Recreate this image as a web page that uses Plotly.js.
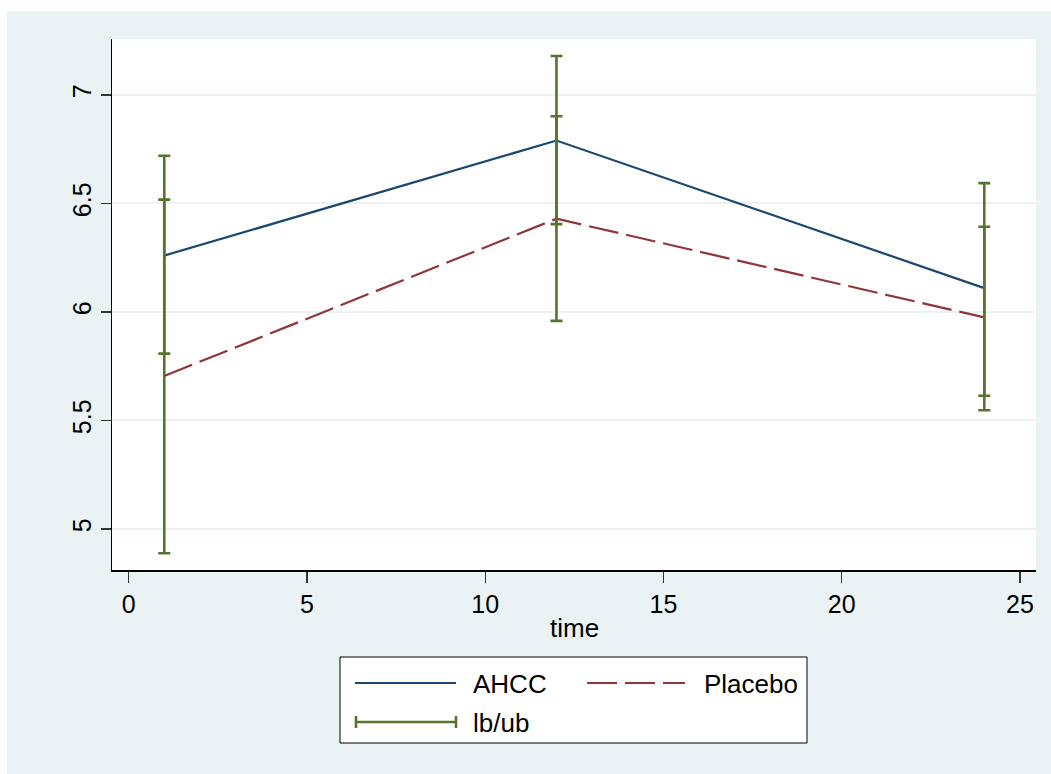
<!DOCTYPE html>
<html>
<head>
<meta charset="utf-8">
<script src="https://cdn.plot.ly/plotly-3.0.1.min.js"></script>
<style>
  html, body { margin: 0; padding: 0; background: #ffffff; width: 1051px; height: 774px; overflow: hidden; }
  #chart { position: absolute; left: 7px; top: 11px; width: 1044px; height: 763px; }
</style>
</head>
<body>
<div id="chart"></div>
<script>
// ---- data ----
var time = [1, 12, 24];
var ahcc = [6.26, 6.79, 6.11];
var placebo = [5.705, 6.43, 5.975];
var ahccLb = [5.808, 6.405, 5.614];
var ahccUb = [6.72, 7.18, 6.594];
var placeboLb = [4.888, 5.959, 5.547];
var placeboUb = [6.518, 6.902, 6.393];
var xTicks = [0, 5, 10, 15, 20, 25];
var yTicks = [5, 5.5, 6, 6.5, 7];
var yTickLabels = ['5', '5.5', '6', '6.5', '7'];
var legendLabels = ['AHCC', 'Placebo', 'lb/ub'];

// ---- styles ----
var NAVY = '#1A476F', MAROON = '#90353B', GREEN = '#55752F', BG = '#EAF2F3';
var FONT = 'Liberation Sans, Arial, sans-serif';

// plot area in page pixels
var PL = 112, PR = 1036, PT = 39, PB = 570, OX = 7, OY = 11;
function px(x) { return (x - PL) / (PR - PL); }
function py(y) { return (PB - y) / (PB - PT); }

function errTrace(y, lb, ub) {
  return {
    x: time, y: y, type: 'scatter', mode: 'markers',
    marker: { size: 1, opacity: 0 }, showlegend: false, hoverinfo: 'skip',
    error_y: {
      type: 'data', symmetric: false,
      array: ub.map(function (u, i) { return u - y[i]; }),
      arrayminus: lb.map(function (l, i) { return y[i] - l; }),
      color: GREEN, thickness: 2.6, width: 6
    }
  };
}

var traces = [
  { x: time, y: ahcc, type: 'scatter', mode: 'lines', line: { color: NAVY, width: 2.2 }, showlegend: false },
  { x: time, y: placebo, type: 'scatter', mode: 'lines', line: { color: MAROON, width: 2.2, dash: '30px,8px' }, showlegend: false },
  errTrace(ahcc, ahccLb, ahccUb),
  errTrace(placebo, placeboLb, placeboUb)
];

// ---- custom legend (Stata style) ----
var shapes = [
  { type: 'rect', xref: 'paper', yref: 'paper', x0: px(340), x1: px(807), y0: py(657), y1: py(743),
    fillcolor: '#ffffff', line: { color: '#000000', width: 1 }, layer: 'above' },
  { type: 'line', xref: 'paper', yref: 'paper', x0: px(355), x1: px(456), y0: py(683), y1: py(683),
    line: { color: NAVY, width: 2.2 } },
  { type: 'line', xref: 'paper', yref: 'paper', x0: px(587), x1: px(685), y0: py(683), y1: py(683),
    line: { color: MAROON, width: 2.2, dash: '30px,8px' } },
  { type: 'line', xref: 'paper', yref: 'paper', x0: px(356), x1: px(456), y0: py(722), y1: py(722),
    line: { color: GREEN, width: 2.6 } },
  { type: 'line', xref: 'paper', yref: 'paper', x0: px(356), x1: px(356), y0: py(716), y1: py(728),
    line: { color: GREEN, width: 2.6 } },
  { type: 'line', xref: 'paper', yref: 'paper', x0: px(456), x1: px(456), y0: py(716), y1: py(728),
    line: { color: GREEN, width: 2.6 } }
];
var legendPos = [[471, 684], [702, 684], [471, 723]];
var annotations = legendLabels.map(function (t, i) {
  return { text: t, xref: 'paper', yref: 'paper', x: px(legendPos[i][0]), y: py(legendPos[i][1]),
    xanchor: 'left', yanchor: 'middle', showarrow: false,
    font: { family: FONT, size: 26, color: '#000000' } };
});
annotations.push({ text: 'time', xref: 'paper', yref: 'paper', x: px(574), y: py(628),
  xanchor: 'center', yanchor: 'middle', showarrow: false,
  font: { family: FONT, size: 26, color: '#000000' } });

var layout = {
  width: 1044, height: 763,
  paper_bgcolor: BG, plot_bgcolor: '#ffffff',
  margin: { l: PL - OX, r: 1044 - (PR - OX), t: PT - OY, b: 763 - (PB - OY), pad: 0 },
  font: { family: FONT, size: 25, color: '#000000' },
  showlegend: false,
  xaxis: {
    range: [-0.466, 25.45], tickmode: 'array', tickvals: xTicks,
    ticks: 'outside', ticklen: 11, tickwidth: 1.3, tickcolor: '#333333',
    showline: true, linecolor: '#000000', linewidth: 1.5,
    showgrid: false, zeroline: false,
    tickfont: { family: FONT, size: 25, color: '#000000' }
  },
  yaxis: {
    range: [4.811, 7.258], tickmode: 'array', tickvals: yTicks, ticktext: yTickLabels,
    tickangle: -90,
    ticks: 'outside', ticklen: 10, tickwidth: 1.3, tickcolor: '#333333',
    showline: true, linecolor: '#000000', linewidth: 1.5,
    showgrid: true, gridcolor: BG, gridwidth: 2, zeroline: false,
    tickfont: { family: FONT, size: 25, color: '#000000' }
  },
  shapes: shapes,
  annotations: annotations
};

Plotly.newPlot('chart', traces, layout, { displayModeBar: false, staticPlot: true });
</script>
</body>
</html>
